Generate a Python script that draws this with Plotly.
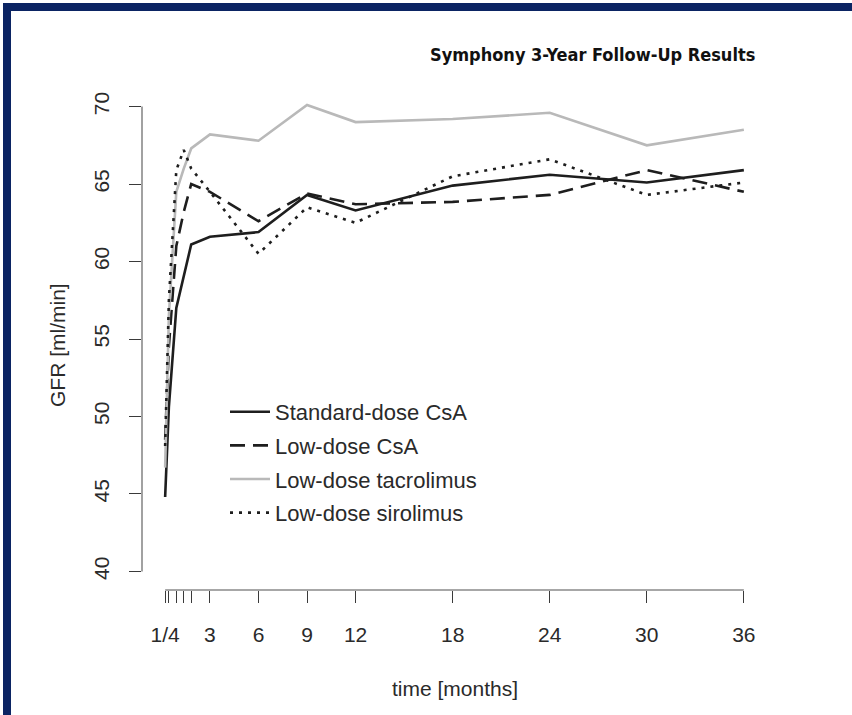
import plotly.graph_objects as go

# Follow-up time points (months; the early visits are weeks 1, 2, 4, 6, 8)
time_months = [0.23, 0.46, 0.92, 1.38, 1.84, 3, 6, 9, 12, 18, 24, 30, 36]
time_labels = ["1/4", "", "", "", "", "3", "6", "9", "12", "18", "24", "30", "36"]

# Mean GFR [ml/min] per treatment arm
standard_csa = [44.8, 50.6, 57.0, 59.0, 61.1, 61.6, 61.9, 64.3, 63.3, 64.9, 65.6, 65.1, 65.9]
low_csa = [48.5, 54.5, 61.0, 63.2, 65.0, 64.5, 62.6, 64.4, 63.7, 63.85, 64.3, 65.9, 64.5]
low_tacrolimus = [46.7, 56.5, 64.5, 66.0, 67.3, 68.2, 67.8, 70.1, 69.0, 69.2, 69.6, 67.5, 68.5]
low_sirolimus = [48.1, 57.5, 65.9, 67.2, 66.0, 64.5, 60.5, 63.5, 62.5, 65.5, 66.6, 64.3, 65.1]

gfr_ticks = [40, 45, 50, 55, 60, 65, 70]

W, H = 852, 715
L, R, T, B = 142, 85, 88, 125
PW, PH = W - L - R, H - T - B

FONT = "Liberation Sans, Arial, Helvetica, sans-serif"
NAVY = "#0b2463"


def px(xp, yp):
    """Convert page pixels into paper coordinates of the plot area."""
    return (xp - L) / PW, 1 - (yp - T) / PH


series = [
    ("Standard-dose CsA", standard_csa, "#1e1e1e", "solid"),
    ("Low-dose CsA", low_csa, "#1e1e1e", "15px,8px"),
    ("Low-dose tacrolimus", low_tacrolimus, "#b9b9b9", "solid"),
    ("Low-dose sirolimus", low_sirolimus, "#1e1e1e", "3px,6px"),
]

fig = go.Figure()
for i, (name, vals, color, dash) in enumerate(series):
    fig.add_trace(go.Scatter(
        x=time_months, y=vals, name=name, mode="lines",
        legendgroup=f"g{i}",
        line=dict(color=color, width=2.6, dash=dash),
    ))

# R-style ranges: data range extended by 4% on each side
xspan = max(time_months) - min(time_months)
xr = [min(time_months) - 0.04 * xspan, max(time_months) + 0.04 * xspan]
yspan = max(gfr_ticks) - min(gfr_ticks)
yr = [min(gfr_ticks) - 0.04 * yspan, max(gfr_ticks) + 0.04 * yspan]

shapes = [
    # axis lines spanning only the tick range
    dict(type="line", xref="x", yref="paper", x0=min(time_months), x1=max(time_months),
         y0=0, y1=0, line=dict(color="#8a8a8a", width=1.6)),
    dict(type="line", xref="paper", yref="y", x0=0, x1=0,
         y0=min(gfr_ticks), y1=max(gfr_ticks), line=dict(color="#8a8a8a", width=1.6)),
]

# navy frame on the top and left edges of the page
x0, y0 = px(3, 3)
x1, y1 = px(W + 5, 11)
shapes.append(dict(type="rect", xref="paper", yref="paper", x0=x0, x1=x1, y0=y1, y1=y0,
                   fillcolor=NAVY, line=dict(width=0), layer="above"))
x0, y0 = px(3, 3)
x1, y1 = px(11, H + 5)
shapes.append(dict(type="rect", xref="paper", yref="paper", x0=x0, x1=x1, y0=y1, y1=y0,
                   fillcolor=NAVY, line=dict(width=0), layer="above"))

tx, ty = px(757, 54)
gx, gy = px(57, 345)
mx, my = px(455, 688)
lx, ly = px(225, 391)

annotations = [
    dict(text="<b>Symphony 3-Year Follow-Up Results</b>", x=tx, y=ty, xref="paper", yref="paper",
         xanchor="right", yanchor="middle", showarrow=False,
         font=dict(family="Liberation Sans Narrow, DejaVu Sans Condensed, Arial Narrow, sans-serif",
                   size=18, color="#111111")),
    dict(text="GFR [ml/min]", x=gx, y=gy, xref="paper", yref="paper", textangle=-90,
         xanchor="center", yanchor="middle", showarrow=False,
         font=dict(family=FONT, size=21, color="#2a2a2a")),
    dict(text="time [months]", x=mx, y=my, xref="paper", yref="paper",
         xanchor="center", yanchor="middle", showarrow=False,
         font=dict(family=FONT, size=21, color="#2a2a2a")),
]

fig.update_layout(
    width=W, height=H,
    margin=dict(l=L, r=R, t=T, b=B),
    paper_bgcolor="white", plot_bgcolor="white",
    shapes=shapes, annotations=annotations,
    showlegend=True,
    legend=dict(x=lx, y=ly, xanchor="left", yanchor="top", bgcolor="rgba(0,0,0,0)",
                font=dict(family=FONT, size=22, color="#2a2a2a"),
                tracegroupgap=2, itemwidth=40, traceorder="grouped"),
    xaxis=dict(range=xr, tickmode="array", tickvals=time_months, ticktext=time_labels,
               showgrid=False, zeroline=False, showline=False,
               ticks="outside", ticklen=12, tickwidth=1.3, tickcolor="#3a3a3a",
               ticklabelstandoff=14,
               tickfont=dict(family=FONT, size=21, color="#2a2a2a")),
    yaxis=dict(range=yr, tickmode="array", tickvals=gfr_ticks,
               ticktext=[str(v) for v in gfr_ticks], tickangle=-90,
               showgrid=False, zeroline=False, showline=False,
               ticks="outside", ticklen=12, tickwidth=1.3, tickcolor="#3a3a3a",
               ticklabelstandoff=12,
               tickfont=dict(family=FONT, size=21, color="#2a2a2a")),
)

fig.write_html("out.html")
